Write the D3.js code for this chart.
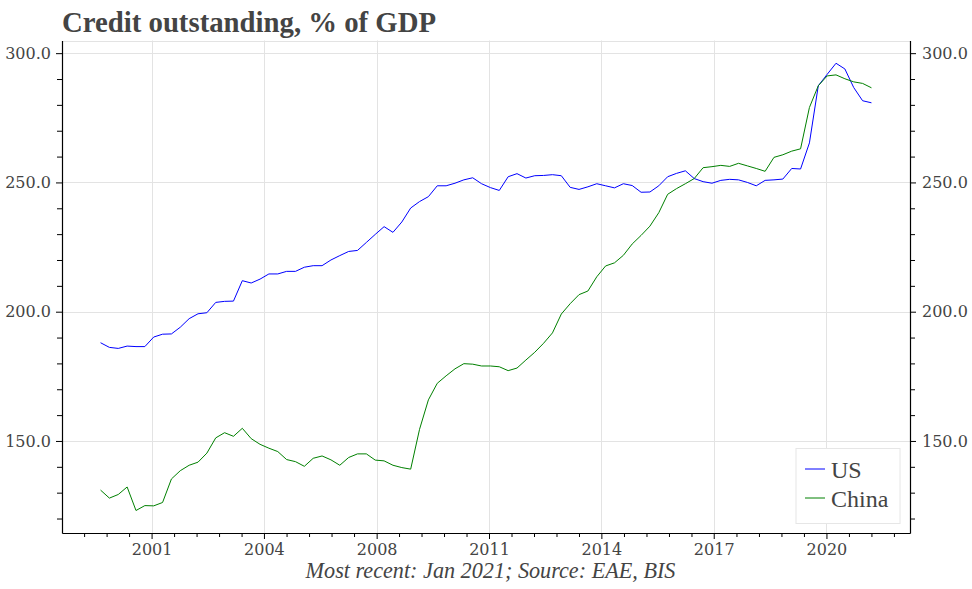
<!DOCTYPE html>
<html>
<head>
<meta charset="utf-8">
<script src="https://cdn.jsdelivr.net/npm/d3@7"></script>
<style>
  html, body { margin: 0; padding: 0; background: #fff; }
  svg { display: block; }
</style>
</head>
<body>
<svg id="chart" width="972" height="589"></svg>
<script>
// ---------------- data ----------------
const title = "Credit outstanding, % of GDP";
const footnote = "Most recent: Jan 2021; Source: EAE, BIS";
const seriesNames = ["US", "China"];
// quarterly observations, 1999 Q2 .. 2021 Q1
const firstQuarter = 1999.25;
const usValues = [
  188.0, 186.2, 185.8, 186.7, 186.5, 186.5, 190.2, 191.3, 191.4, 194.0,
  197.3, 199.2, 199.6, 203.6, 204.0, 204.1, 212.0, 211.1, 212.6, 214.6,
  214.6, 215.6, 215.6, 217.2, 217.8, 217.8, 220.0, 221.7, 223.3, 223.7,
  226.8, 229.9, 232.9, 230.7, 234.7, 240.1, 242.6, 244.5, 248.7, 248.7,
  249.7, 251.0, 251.8, 249.5, 248.0, 246.9, 252.2, 253.4, 251.7, 252.6,
  252.7, 253.0, 252.6, 248.1, 247.3, 248.3, 249.5, 248.7, 247.9, 249.5,
  248.8, 246.2, 246.3, 248.7, 252.2, 253.5, 254.5, 251.5, 250.3, 249.7,
  250.8, 251.2, 251.0, 250.0, 248.7, 250.8, 251.0, 251.3, 255.4, 255.2,
  265.3, 287.4, 291.8, 296.1, 293.9, 286.7, 281.6, 280.8
];
const chinaValues = [
  131.0, 127.9, 129.3, 132.2, 123.1, 125.0, 124.9, 126.2, 135.3, 138.5,
  140.6, 141.8, 145.3, 151.2, 153.2, 151.8, 154.9, 150.9, 148.7, 147.2,
  145.9, 142.8, 142.0, 140.2, 143.3, 144.2, 142.7, 140.6, 143.6, 145.0,
  145.0, 142.6, 142.3, 140.6, 139.7, 139.1, 154.5, 165.9, 172.3, 175.2,
  177.9, 179.9, 179.7, 179.0, 179.0, 178.7, 177.2, 178.2, 181.3, 184.3,
  187.8, 191.8, 199.1, 203.1, 206.6, 208.0, 213.5, 217.7, 218.9, 221.8,
  226.2, 229.5, 233.1, 238.3, 245.4, 247.6, 249.5, 251.5, 255.7, 256.1,
  256.6, 256.2, 257.4, 256.4, 255.4, 254.3, 259.7, 260.7, 262.1, 263.0,
  279.0, 287.4, 291.2, 291.6, 290.1, 288.9, 288.3, 286.6
];
const xTickValues = [2000.69, 2003.86, 2007.04, 2010.21, 2013.38, 2016.55, 2019.73];
const xTickLabels = ["2001", "2004", "2008", "2011", "2014", "2017", "2020"];
const yTickValues = [150, 200, 250, 300];
const yMinorTickValues = [120, 130, 140, 160, 170, 180, 190, 210, 220, 230, 240, 260, 270, 280, 290, 300];
const seriesColors = ["#0000ff", "#008000"];

// ---------------- layout ----------------
const svg = d3.select("#chart");
const L = 62, R = 910, T = 40.5, B = 533;
const textColor = "#444444";
const gridColor = "#e3e3e3";

const dates = usValues.map((_, i) => firstQuarter + i * 0.25);
const series = [
  { name: seriesNames[0], color: seriesColors[0], values: usValues },
  { name: seriesNames[1], color: seriesColors[1], values: chinaValues }
];

const dMin = dates[0], dMax = dates[dates.length - 1];
const pad = (dMax - dMin) * 0.05;
const x = d3.scaleLinear().domain([dMin - pad, dMax + pad]).range([L, R]);
const y = d3.scaleLinear().domain([114.4, 304.9]).range([B, T]);

// minor x ticks: 5 subdivisions of each major interval
const xStep = (xTickValues[xTickValues.length - 1] - xTickValues[0]) / (xTickValues.length - 1);
const xMinor = [];
for (let k = -5; k <= (xTickValues.length) * 5; k++) {
  const v = xTickValues[0] + k * xStep / 5;
  if (k % 5 !== 0 && v > x.domain()[0] + 0.05 && v < x.domain()[1]) xMinor.push(v);
}

// grid
const grid = svg.append("g");
grid.selectAll("line.gx").data(xTickValues).join("line")
  .attr("x1", d => Math.round(x(d)) + 0.5).attr("x2", d => Math.round(x(d)) + 0.5)
  .attr("y1", T).attr("y2", B)
  .attr("stroke", gridColor).attr("stroke-width", 1);
grid.selectAll("line.gy").data(yTickValues).join("line")
  .attr("x1", L).attr("x2", R)
  .attr("y1", d => Math.round(y(d)) + 0.5).attr("y2", d => Math.round(y(d)) + 0.5)
  .attr("stroke", gridColor).attr("stroke-width", 1);
// top spine (light)
svg.append("line").attr("x1", L).attr("x2", R).attr("y1", Math.round(T) + 0.5).attr("y2", Math.round(T) + 0.5)
  .attr("stroke", gridColor).attr("stroke-width", 1);

// lines
const line = d3.line().x((d, i) => x(dates[i])).y(d => y(d));
svg.append("g").selectAll("path").data(series).join("path")
  .attr("d", d => line(d.values))
  .attr("fill", "none")
  .attr("stroke", d => d.color)
  .attr("stroke-width", 1)
  .attr("stroke-linejoin", "round");

// axes
function styleAxis(g) {
  g.selectAll("path.domain").attr("stroke", "#000").attr("stroke-width", 1.2);
  g.selectAll(".tick line").attr("stroke", "#000").attr("stroke-width", 1);
  g.selectAll(".tick text").attr("fill", textColor)
    .style("font-family", "'DejaVu Serif', serif").style("font-size", "16px");
}
const xAxis = svg.append("g").attr("transform", `translate(0,${B})`)
  .call(d3.axisBottom(x).tickValues(xTickValues).tickFormat((d, i) => xTickLabels[i])
    .tickSize(6).tickSizeOuter(0).tickPadding(5));
styleAxis(xAxis);
xAxis.selectAll(".tick text").attr("dy", "0.71em");
const xAxisMinor = svg.append("g").attr("transform", `translate(0,${B})`)
  .call(d3.axisBottom(x).tickValues(xMinor).tickFormat("").tickSize(4).tickSizeOuter(0));
styleAxis(xAxisMinor);
xAxisMinor.select("path.domain").remove();

const yFmt = d3.format(".1f");
const yAxisL = svg.append("g").attr("transform", `translate(${L},0)`)
  .call(d3.axisLeft(y).tickValues(yTickValues).tickFormat(yFmt).tickSize(6).tickSizeOuter(0).tickPadding(5));
styleAxis(yAxisL);
const yAxisLm = svg.append("g").attr("transform", `translate(${L},0)`)
  .call(d3.axisLeft(y).tickValues(yMinorTickValues.filter(v => yTickValues.indexOf(v) < 0)).tickFormat("").tickSize(5).tickSizeOuter(0));
styleAxis(yAxisLm);
yAxisLm.select("path.domain").remove();

const yAxisR = svg.append("g").attr("transform", `translate(${R},0)`)
  .call(d3.axisRight(y).tickValues(yTickValues).tickFormat(yFmt).tickSize(6).tickSizeOuter(0).tickPadding(6));
styleAxis(yAxisR);
const yAxisRm = svg.append("g").attr("transform", `translate(${R},0)`)
  .call(d3.axisRight(y).tickValues(yMinorTickValues.filter(v => yTickValues.indexOf(v) < 0)).tickFormat("").tickSize(5).tickSizeOuter(0));
styleAxis(yAxisRm);
yAxisRm.select("path.domain").remove();

// legend
const lg = svg.append("g");
lg.append("rect").attr("x", 796).attr("y", 448.5).attr("width", 104).attr("height", 75)
  .attr("fill", "#fff").attr("stroke", "#e6e6e6").attr("stroke-width", 1);
series.forEach((s, i) => {
  const yy = 469 + i * 29;
  lg.append("line").attr("x1", 805).attr("x2", 825).attr("y1", yy).attr("y2", yy)
    .attr("stroke", s.color).attr("stroke-width", 1);
  lg.append("text").attr("x", 831).attr("y", yy + 9).text(s.name)
    .attr("fill", textColor)
    .style("font-family", "'Liberation Serif', serif").style("font-size", "24px");
});

// title & footnote, fitted to measured widths
function fit(sel, target, base) {
  const w = sel.node().getComputedTextLength();
  sel.style("font-size", (base * target / w).toFixed(2) + "px");
}
const t = svg.append("text").attr("x", 62).attr("y", 32).text(title)
  .attr("fill", textColor)
  .style("font-family", "'Liberation Serif', serif").style("font-weight", "bold").style("font-size", "27px");
fit(t, 374, 27);
const f = svg.append("text").attr("x", 490.5).attr("y", 578).attr("text-anchor", "middle").text(footnote)
  .attr("fill", textColor)
  .style("font-family", "'Liberation Serif', serif").style("font-style", "italic").style("font-size", "22px");
fit(f, 370, 22);
</script>
</body>
</html>
